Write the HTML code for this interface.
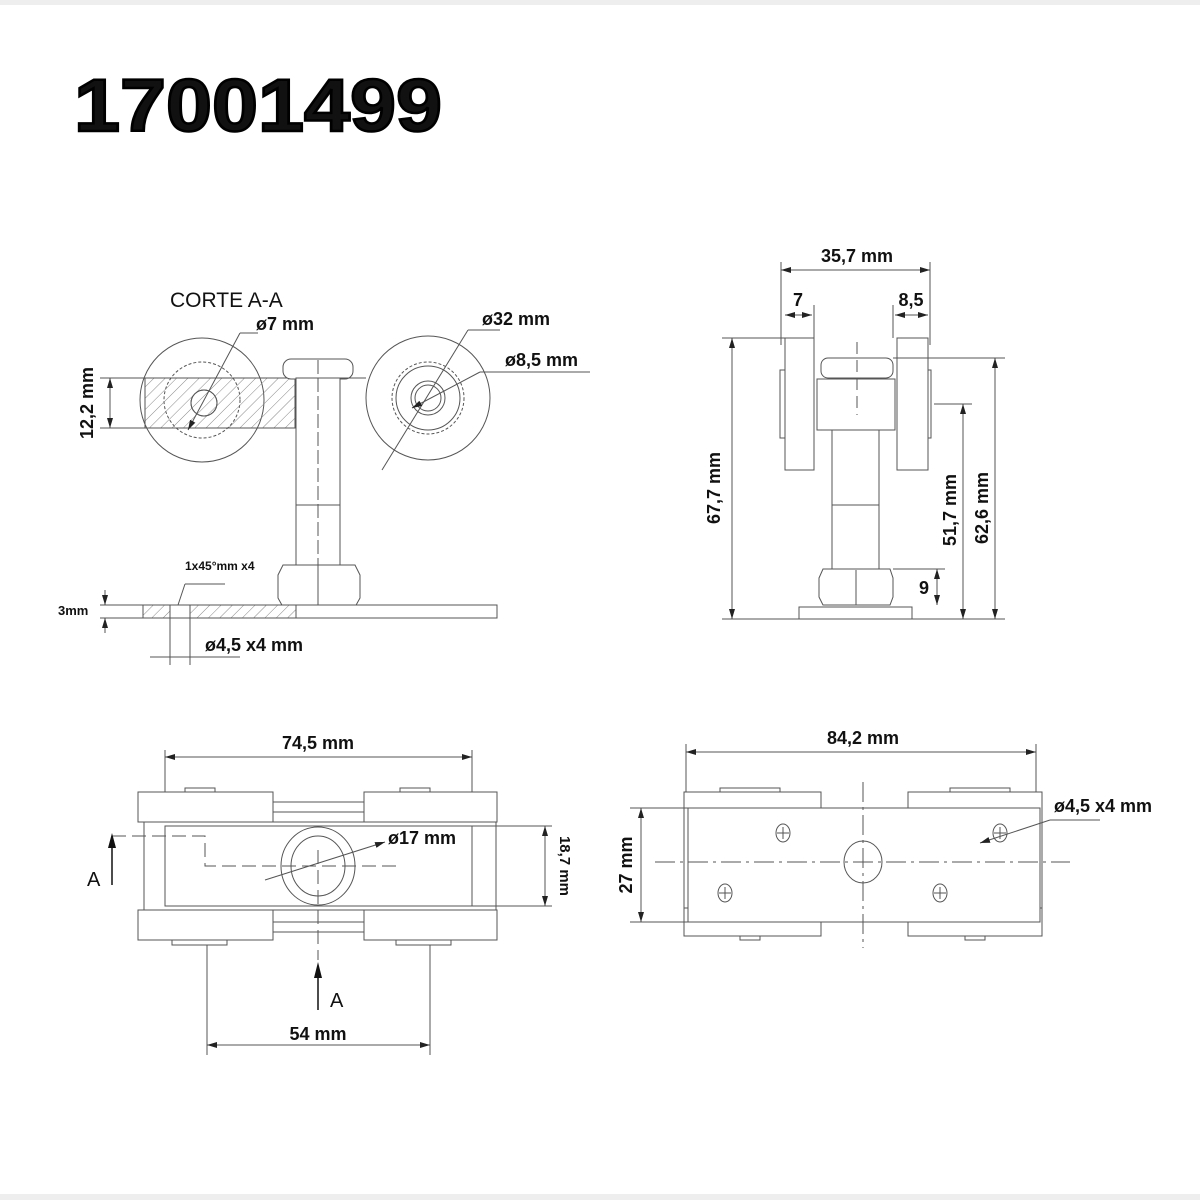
<!DOCTYPE html>
<html><head><meta charset="utf-8"><style>
html,body{margin:0;padding:0;background:#fff}
svg{display:block}
text{font-family:"Liberation Sans",sans-serif;font-weight:bold;fill:#111}
</style></head><body>
<svg width="1200" height="1200" viewBox="0 0 1200 1200" xmlns="http://www.w3.org/2000/svg">
<defs>
<pattern id="h" width="8" height="8" patternUnits="userSpaceOnUse" patternTransform="rotate(45)">
<line x1="0" y1="0" x2="0" y2="8" stroke="#888" stroke-width="1"/></pattern>
<marker id="a" markerWidth="10" markerHeight="6" refX="10" refY="3" orient="auto-start-reverse" markerUnits="userSpaceOnUse"><path d="M0,0 L10,3 L0,6z" fill="#222"/></marker>
</defs>
<rect x="0" y="0" width="1200" height="5" fill="#eee"/>
<rect x="0" y="1194" width="1200" height="6" fill="#eee"/>
<text x="74" y="131" font-size="74" textLength="368" lengthAdjust="spacingAndGlyphs" stroke="#000" stroke-width="2.5" fill="#000">17001499</text>

<g fill="none" stroke="#555" stroke-width="1">
<circle cx="202" cy="400" r="62"/>
<circle cx="202" cy="400" r="38" stroke-dasharray="3,2"/>
<rect x="145" y="378" width="150" height="50" fill="url(#h)"/>
<circle cx="204" cy="403" r="13" fill="#fff"/>
<circle cx="204" cy="403" r="13" fill="url(#h)"/>
<circle cx="428" cy="398" r="62"/>
<circle cx="428" cy="398" r="36" stroke-dasharray="3,2"/>
<circle cx="428" cy="398" r="32"/>
<circle cx="428" cy="398" r="17"/>
<circle cx="428" cy="398" r="13"/>
<rect x="283" y="359" width="70" height="20" rx="8" fill="#fff"/>
<rect x="296" y="378" width="44" height="228" fill="#fff"/>
<line x1="318" y1="360" x2="318" y2="615" stroke-dasharray="14,4"/>
<line x1="296" y1="505" x2="340" y2="505"/>
<line x1="340" y1="378" x2="366" y2="378"/>
<path d="M283,565 H355 L360,575 V598 L355,607 H283 L278,598 V575Z" fill="#fff"/>
<line x1="318" y1="565" x2="318" y2="607"/>
<rect x="143" y="605" width="354" height="13" fill="#fff"/>
<rect x="143" y="605" width="153" height="13" fill="url(#h)"/>
<rect x="170" y="605" width="20" height="13" fill="#fff"/>
<line x1="170" y1="618" x2="170" y2="665"/><line x1="190" y1="618" x2="190" y2="665"/>
<line x1="150" y1="657" x2="240" y2="657"/>
<line x1="178" y1="605" x2="185" y2="584"/><line x1="185" y1="584" x2="225" y2="584"/>
<line x1="100" y1="378" x2="145" y2="378"/><line x1="100" y1="428" x2="145" y2="428"/>
<line x1="110" y1="378" x2="110" y2="428" marker-start="url(#a)" marker-end="url(#a)"/>
<line x1="100" y1="605" x2="143" y2="605"/><line x1="100" y1="618" x2="143" y2="618"/>
<line x1="105" y1="590" x2="105" y2="605" marker-end="url(#a)"/><line x1="105" y1="633" x2="105" y2="618" marker-end="url(#a)"/>
<line x1="240" y1="333" x2="258" y2="333"/><line x1="240" y1="333" x2="188" y2="430" marker-end="url(#a)"/>
<line x1="468" y1="330" x2="500" y2="330"/><line x1="468" y1="330" x2="382" y2="470"/>
<line x1="480" y1="372" x2="590" y2="372"/><line x1="480" y1="372" x2="412" y2="408" marker-end="url(#a)"/>

<rect x="785" y="338" width="29" height="132" fill="#fff"/>
<rect x="897" y="338" width="31" height="132" fill="#fff"/>
<rect x="780" y="370" width="5" height="68"/><rect x="928" y="370" width="3" height="68"/>
<rect x="817" y="379" width="78" height="51" fill="#fff"/>
<rect x="821" y="358" width="72" height="20" rx="7" fill="#fff"/>
<rect x="832" y="430" width="47" height="139" fill="#fff"/>
<line x1="832" y1="505" x2="879" y2="505"/>
<line x1="857" y1="342" x2="857" y2="415" stroke-dasharray="12,6"/>
<path d="M823,569 H890 L893,578 V597 L890,605 H823 L819,597 V578Z" fill="#fff"/>
<line x1="856" y1="570" x2="856" y2="605"/>
<rect x="799" y="607" width="113" height="12" fill="#fff"/>
<line x1="781" y1="262" x2="781" y2="345"/><line x1="930" y1="262" x2="930" y2="345"/>
<line x1="781" y1="270" x2="930" y2="270" marker-start="url(#a)" marker-end="url(#a)"/>
<line x1="814" y1="305" x2="814" y2="338"/><line x1="893" y1="305" x2="893" y2="338"/>
<line x1="785" y1="315" x2="812" y2="315" marker-start="url(#a)" marker-end="url(#a)"/>
<line x1="895" y1="315" x2="928" y2="315" marker-start="url(#a)" marker-end="url(#a)"/>
<line x1="722" y1="338" x2="785" y2="338"/>
<line x1="722" y1="619" x2="1005" y2="619"/>
<line x1="732" y1="338" x2="732" y2="619" marker-start="url(#a)" marker-end="url(#a)"/>
<line x1="893" y1="358" x2="1005" y2="358"/>
<line x1="995" y1="358" x2="995" y2="619" marker-start="url(#a)" marker-end="url(#a)"/>
<line x1="934" y1="404" x2="972" y2="404"/>
<line x1="963" y1="404" x2="963" y2="619" marker-start="url(#a)" marker-end="url(#a)"/>
<line x1="893" y1="569" x2="945" y2="569"/>
<line x1="937" y1="569" x2="937" y2="605" marker-start="url(#a)" marker-end="url(#a)"/>

<line x1="165" y1="750" x2="165" y2="822"/><line x1="472" y1="750" x2="472" y2="822"/>
<line x1="165" y1="757" x2="472" y2="757" marker-start="url(#a)" marker-end="url(#a)"/>
<rect x="273" y="802" width="91" height="10"/><rect x="273" y="922" width="91" height="10"/>
<rect x="144" y="822" width="352" height="88" fill="#fff"/>
<rect x="165" y="826" width="307" height="80" fill="#fff"/>
<rect x="138" y="792" width="135" height="30" fill="#fff"/>
<rect x="364" y="792" width="133" height="30" fill="#fff"/>
<rect x="138" y="910" width="135" height="30" fill="#fff"/>
<rect x="364" y="910" width="133" height="30" fill="#fff"/>
<rect x="172" y="940" width="55" height="5"/><rect x="396" y="940" width="55" height="5"/>
<rect x="185" y="788" width="30" height="4"/><rect x="400" y="788" width="30" height="4"/>
<ellipse cx="318" cy="866" rx="37" ry="39"/><ellipse cx="318" cy="866" rx="27" ry="30"/>
<path d="M112,836 H205 V866 H400" stroke-dasharray="14,6"/>
<line x1="318" y1="850" x2="318" y2="960" stroke-dasharray="14,6"/>
<line x1="472" y1="826" x2="552" y2="826"/><line x1="472" y1="906" x2="552" y2="906"/>
<line x1="545" y1="826" x2="545" y2="906" marker-start="url(#a)" marker-end="url(#a)"/>
<line x1="385" y1="842" x2="265" y2="880" marker-start="url(#a)"/>
<line x1="207" y1="945" x2="207" y2="1055"/><line x1="430" y1="945" x2="430" y2="1055"/>
<line x1="207" y1="1045" x2="430" y2="1045" marker-start="url(#a)" marker-end="url(#a)"/>

<line x1="686" y1="744" x2="686" y2="800"/><line x1="1036" y1="744" x2="1036" y2="800"/>
<line x1="686" y1="752" x2="1036" y2="752" marker-start="url(#a)" marker-end="url(#a)"/>
<rect x="684" y="792" width="137" height="130" fill="#fff"/>
<rect x="908" y="792" width="134" height="130" fill="#fff"/>
<rect x="684" y="908" width="137" height="28" fill="#fff"/>
<rect x="908" y="908" width="134" height="28" fill="#fff"/>
<rect x="688" y="808" width="352" height="114" fill="#fff"/>
<rect x="720" y="788" width="60" height="4"/><rect x="950" y="788" width="60" height="4"/>
<rect x="740" y="936" width="20" height="4"/><rect x="965" y="936" width="20" height="4"/>
<line x1="655" y1="862" x2="1070" y2="862" stroke-dasharray="20,5,3,5"/>
<line x1="863" y1="782" x2="863" y2="948" stroke-dasharray="20,5,3,5"/>
<ellipse cx="863" cy="862" rx="19" ry="21"/>
<g><ellipse cx="783" cy="833" rx="7" ry="9"/><path d="M777,833 H789 M783,827 V839"/></g>
<g><ellipse cx="1000" cy="833" rx="7" ry="9"/><path d="M994,833 H1006 M1000,827 V839"/></g>
<g><ellipse cx="725" cy="893" rx="7" ry="9"/><path d="M719,893 H731 M725,887 V899"/></g>
<g><ellipse cx="940" cy="893" rx="7" ry="9"/><path d="M934,893 H946 M940,887 V899"/></g>
<line x1="630" y1="808" x2="688" y2="808"/><line x1="630" y1="922" x2="688" y2="922"/>
<line x1="641" y1="808" x2="641" y2="922" marker-start="url(#a)" marker-end="url(#a)"/>
<line x1="1050" y1="820" x2="1100" y2="820"/>
<line x1="1050" y1="820" x2="980" y2="843" marker-end="url(#a)"/>
</g>
<line x1="112" y1="845" x2="112" y2="885" stroke="#111" stroke-width="1.5"/>
<path d="M108,848 L112,833 L116,848Z" fill="#111"/>
<line x1="318" y1="975" x2="318" y2="1010" stroke="#111" stroke-width="1.5"/>
<path d="M314,978 L318,962 L322,978Z" fill="#111"/>
<text x="87" y="886" font-size="20" style="font-weight:normal">A</text>
<text x="330" y="1007" font-size="20" style="font-weight:normal">A</text>

<text x="170" y="307" font-size="21" style="font-weight:normal">CORTE A-A</text>
<text x="256" y="330" font-size="18">ø7 mm</text>
<text x="482" y="325" font-size="18">ø32 mm</text>
<text x="505" y="366" font-size="18">ø8,5 mm</text>
<text x="93" y="403" font-size="18" text-anchor="middle" transform="rotate(-90 93 403)">12,2 mm</text>
<text x="185" y="570" font-size="12">1x45°mm x4</text>
<text x="58" y="615" font-size="13">3mm</text>
<text x="205" y="651" font-size="18">ø4,5 x4 mm</text>

<text x="857" y="262" font-size="18" text-anchor="middle">35,7 mm</text>
<text x="798" y="306" font-size="18" text-anchor="middle">7</text>
<text x="911" y="306" font-size="18" text-anchor="middle">8,5</text>
<text x="720" y="488" font-size="18" text-anchor="middle" transform="rotate(-90 720 488)">67,7 mm</text>
<text x="956" y="510" font-size="18" text-anchor="middle" transform="rotate(-90 956 510)">51,7 mm</text>
<text x="988" y="508" font-size="18" text-anchor="middle" transform="rotate(-90 988 508)">62,6 mm</text>
<text x="924" y="594" font-size="18" text-anchor="middle">9</text>

<text x="318" y="749" font-size="18" text-anchor="middle">74,5 mm</text>
<text x="388" y="844" font-size="18">ø17 mm</text>
<text x="560" y="866" font-size="15" text-anchor="middle" transform="rotate(90 560 866)">18,7 mm</text>
<text x="318" y="1040" font-size="18" text-anchor="middle">54 mm</text>

<text x="863" y="744" font-size="18" text-anchor="middle">84,2 mm</text>
<text x="1103" y="812" font-size="18" text-anchor="middle">ø4,5 x4 mm</text>
<text x="632" y="865" font-size="18" text-anchor="middle" transform="rotate(-90 632 865)">27 mm</text>
</svg>
</body></html>
